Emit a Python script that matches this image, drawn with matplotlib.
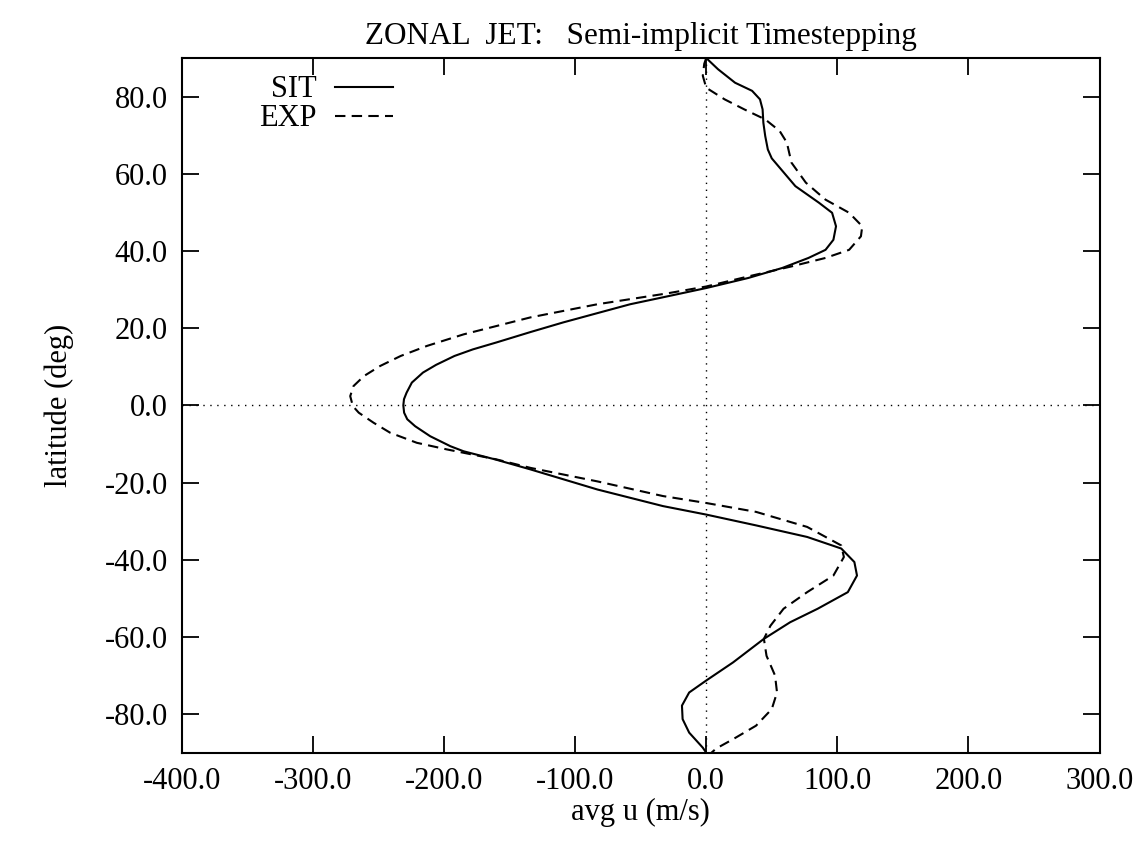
import numpy as np
from matplotlib import pyplot as plt

# Constants
PLOT_PATH = "out.png"
DPI       = 100
FONT      = "Liberation Serif"

# Data (latitude in deg, zonal mean u in m/s)
sit_lat = [90, 87.1, 83.6, 81.5, 79.3, 76.7, 73.2, 69.8, 66.3, 64, 62, 56.8, 52.5,
           49.9, 46.4, 42.9, 40.3, 38.2, 35.6, 33, 30.4, 28, 26.2, 23.9, 21.5,
           19, 16.3, 14.5, 12.8, 10.5, 8.5, 5.9, 3.3, 1.6, 0, -1.9, -3.6, -5.4, -8,
           -10.6, -11.9, -14, -16.6, -21.8, -26.1, -28.3, -31.1, -34.1, -37.1, -40.6,
           -44.1, -48.4, -52.7, -56.2, -60.5, -66.6, -71.3, -74.4, -77.8, -81.3,
           -84.8, -88.7, -90]
sit_u   = [0, 9, 22, 35, 41, 43, 43.6, 45, 47, 50, 55, 68, 86,
           96, 99, 97, 91, 78, 58, 32, 0, -33, -58, -83, -109,
           -134, -160, -178, -192, -206, -216, -224.5, -228.5, -230.5, -231, -230.4, -228, -222, -210.5,
           -195, -185, -161, -134, -83, -33, 0, 38, 77, 103, 113,
           115, 108, 85, 64, 44, 20.5, 0, -13, -18.5, -18,
           -13, -2.6, 0]

exp_lat = [90, 88.5, 85.4, 82.3, 79.3, 76.7, 74.1, 71.1, 68.1, 62.9, 57.7, 53.3,
           49.9, 46.4, 43.8, 40.3, 38.2, 36, 33.4, 30.8, 29, 26.2, 22.8, 18.4,
           15.4, 12.8, 10.2, 7.6, 5, 2.4, -0.2, -1.9, -4.5, -7.1, -9.7, -11.4,
           -14, -16.2, -19.7, -23.5, -25.3, -27.6, -31.5, -36.3, -39.3, -44.1,
           -48.4, -52.7, -57.1, -60.5, -64.9, -70, -74.4, -78.7, -83, -86.5,
           -88.9, -90]
exp_u   = [0, -1.5, -2.6, 0, 14, 29, 45, 56, 61.5, 65, 76, 91,
           109, 119, 118, 109, 91, 65, 32, 0, -30, -83, -134, -185,
           -213, -233, -248.7, -261, -269, -271.5, -269.5, -265, -253.7, -241, -220.7, -198,
           -160, -134, -83, -33, 0, 38, 77, 103, 105, 97,
           77, 59, 49, 44, 46, 52.5, 54, 50, 38, 20.5,
           7.7, 4]

x_ticks = np.arange(-400, 301, 100)
y_ticks = np.arange(-80, 81, 20)

plt.rcParams['font.family'] = [FONT, 'DejaVu Serif']

fig = plt.figure(figsize=(11.43, 8.41), dpi=DPI)
ax = fig.add_axes([0.159, 0.105, 0.803, 0.826])

# zero lines
ax.axhline(0, color='black', linewidth=1.0, linestyle=(0, (1, 4)))
ax.axvline(0, color='black', linewidth=1.0, linestyle=(0, (1, 4)))

ax.plot(sit_u, sit_lat, color='black', linewidth=1.5, label="SIT")
ax.plot(exp_u, exp_lat, color='black', linewidth=1.5, linestyle=(0, (5, 3)), label="EXP")

ax.set_xlim(-400, 300)
ax.set_ylim(-90, 90)
ax.set_xticks(x_ticks)
ax.set_yticks(y_ticks)
ax.set_xticklabels(["%.1f" % v for v in x_ticks])
ax.set_yticklabels(["%.1f" % v for v in y_ticks])
ax.tick_params(direction='in', length=12, width=1.3, top=True, right=True,
               labelsize=22, pad=10)
for s in ax.spines.values():
    s.set_linewidth(1.5)

ax.set_xlabel("avg u (m/s)", fontsize=22, labelpad=2)
ax.set_ylabel("latitude (deg)", fontsize=22, labelpad=22)
ax.set_title("ZONAL  JET:   Semi-implicit Timestepping", fontsize=22.5, pad=10)

ax.legend(loc='upper right', bbox_to_anchor=(0.23, 0.975), frameon=False,
          markerfirst=False, fontsize=22, handlelength=1.9, handletextpad=0.6,
          labelspacing=0.0, borderpad=0, borderaxespad=0)

fig.savefig(PLOT_PATH, dpi=DPI)
